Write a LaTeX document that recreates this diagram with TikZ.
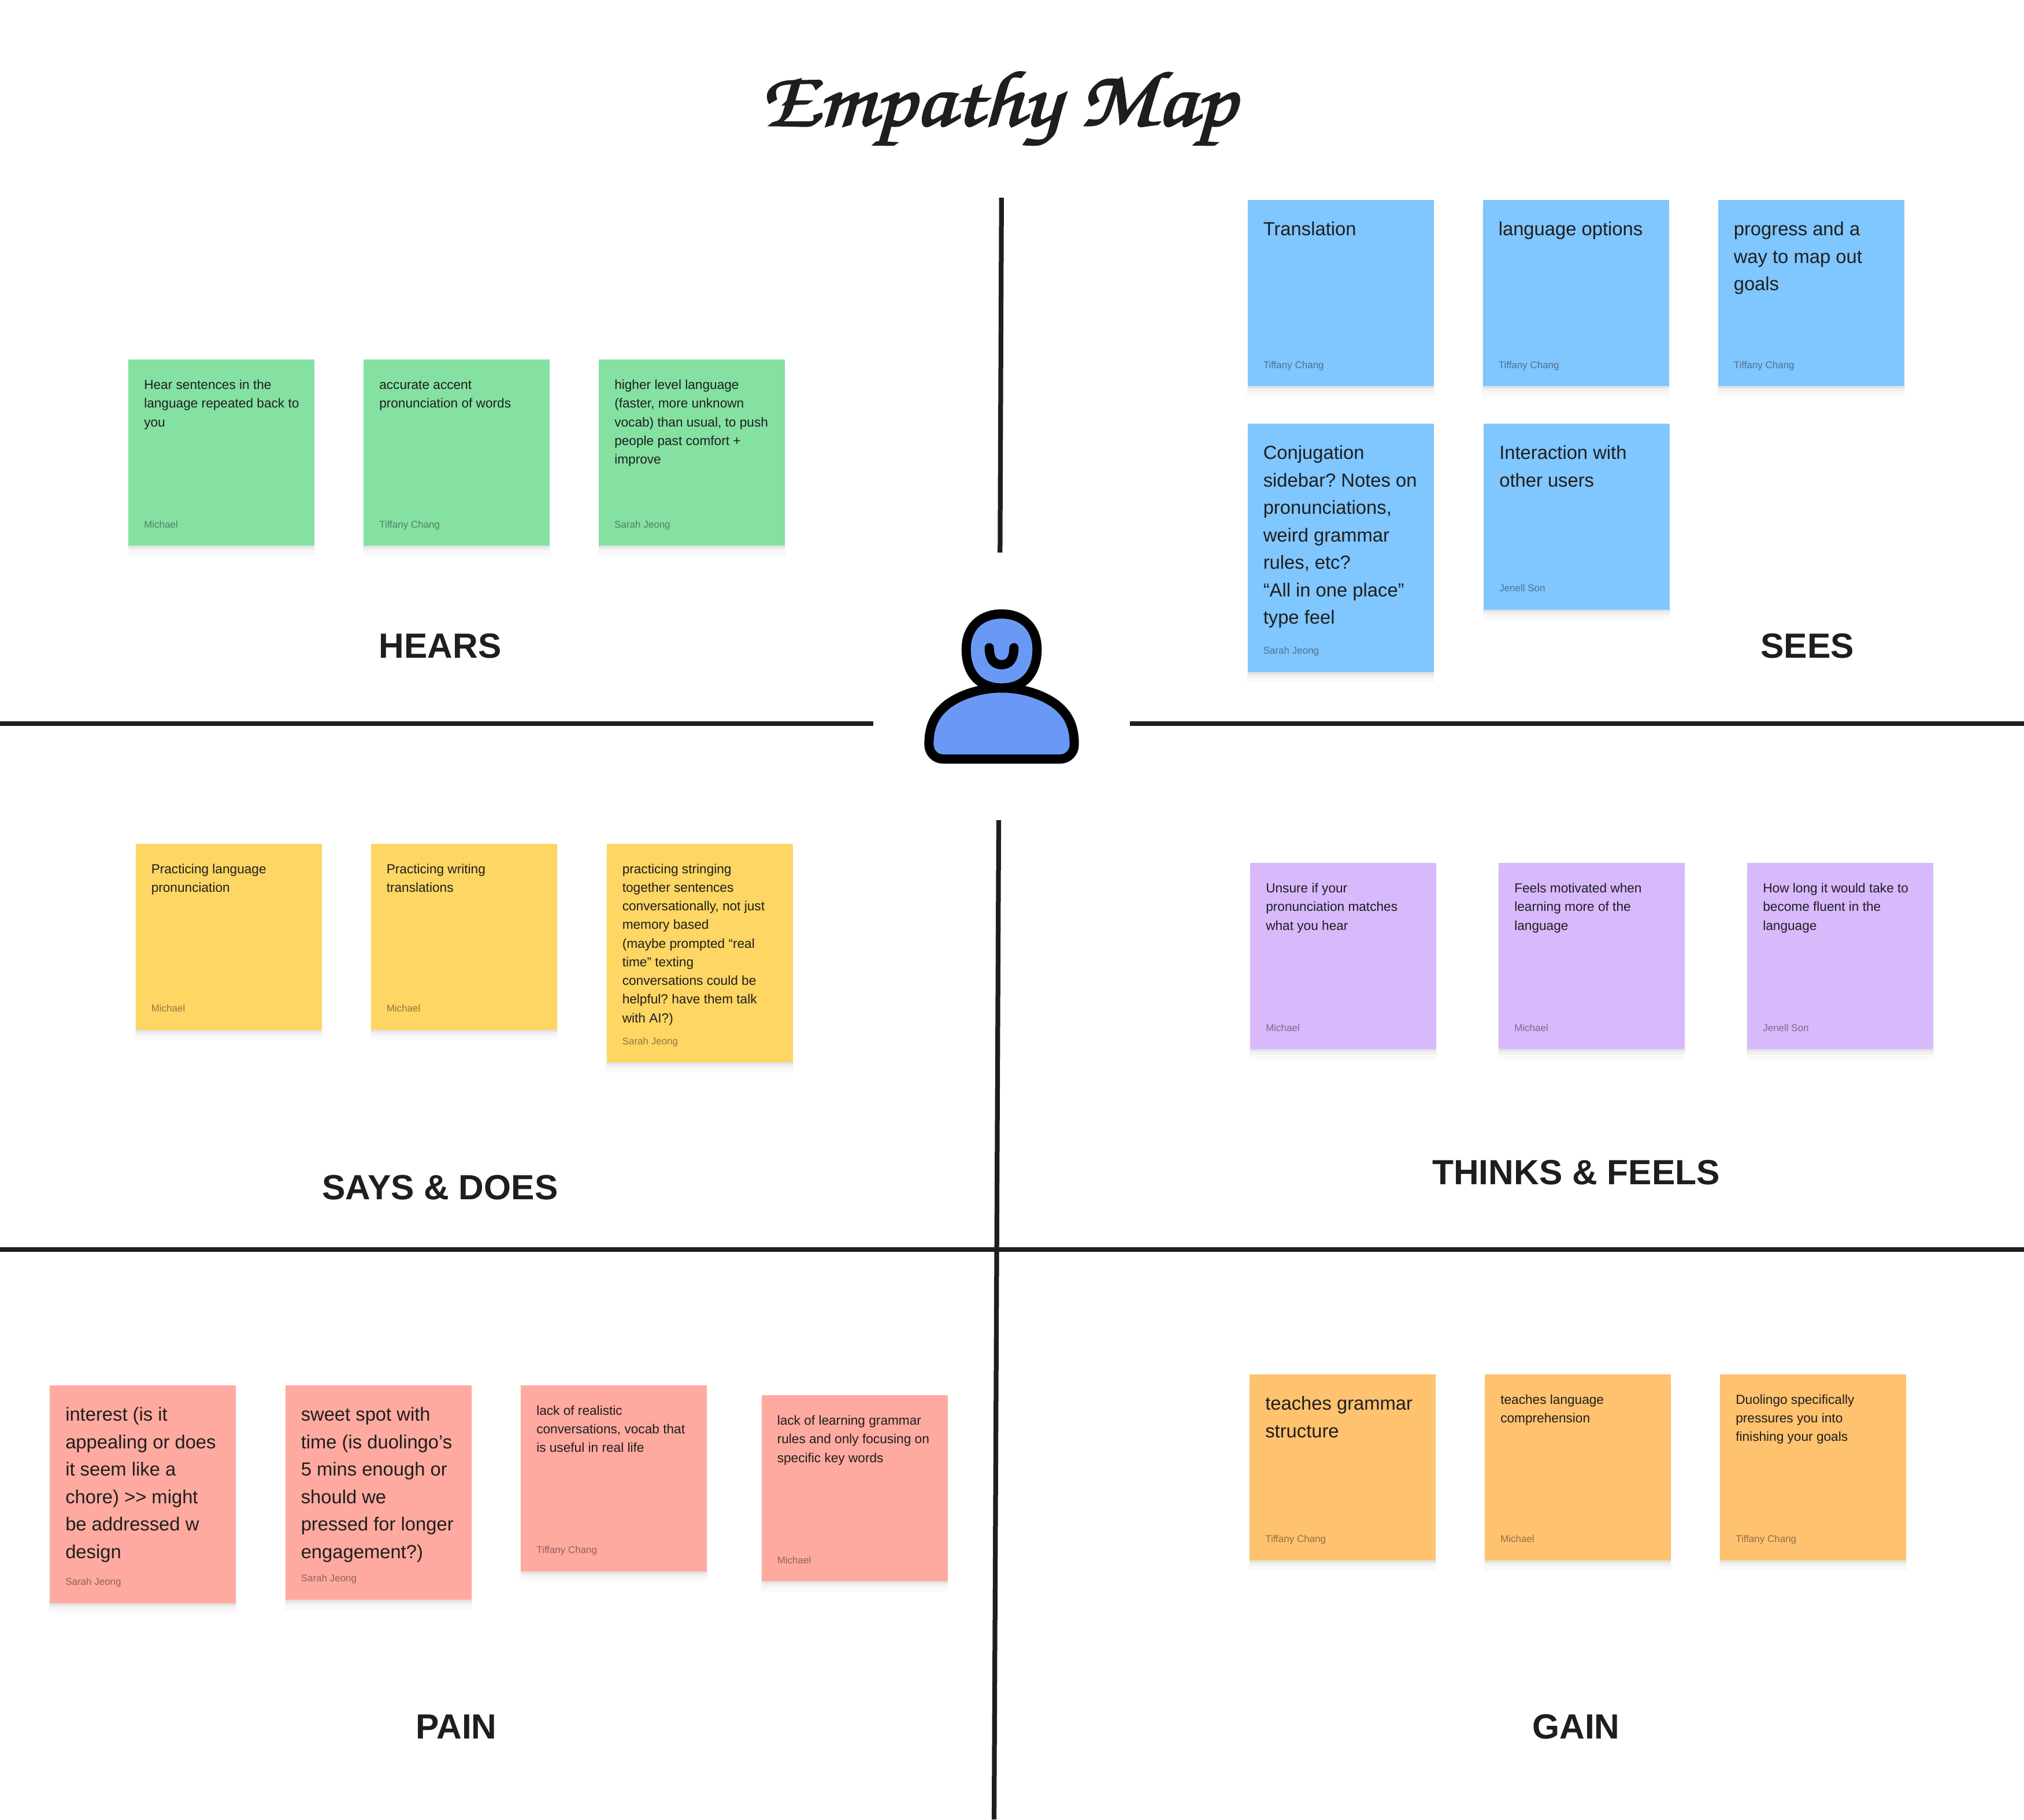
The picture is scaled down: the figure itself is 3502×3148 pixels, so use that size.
\documentclass[tikz,border=0pt]{standalone}
\usepackage{fontspec}
\usepackage{graphicx}
\setmainfont{Liberation Sans}
\usetikzlibrary{positioning,shadows}
\definecolor{figink}{HTML}{1E1E1E}
\definecolor{stickgreen}{HTML}{84E1A2}
\definecolor{stickblue}{HTML}{80C6FF}
\definecolor{stickyellow}{HTML}{FDD663}
\definecolor{stickpurple}{HTML}{D7B9FC}
\definecolor{stickpink}{HTML}{FFAAA0}
\definecolor{stickorange}{HTML}{FFC26F}
\definecolor{iconblue}{HTML}{6A99F5}
\newcommand{\fh}{\rule{0pt}{.9em}}
\tikzset{
  sticky/.style={anchor=north west,minimum width=64.4pt,minimum height=64.4pt,inner sep=0pt,outer sep=0pt,
                 general shadow={fill=black,opacity=0.025,shadow yshift=-3.2pt,shadow scale=1.01},
                 general shadow={fill=black,opacity=0.03,shadow yshift=-1.8pt},
                 general shadow={fill=black,opacity=0.06,shadow yshift=-0.8pt}},
  small/.style={anchor=north west,inner sep=0pt,align=left,text=figink,xshift=5.25pt,yshift=-6.06pt,
                font=\fontsize{4.53}{6.45}\selectfont},
  large/.style={anchor=north west,inner sep=0pt,align=left,text=figink,xshift=5.25pt,yshift=-6.3pt,
                font=\fontsize{6.55}{9.5}\selectfont},
  who/.style={anchor=base west,inner sep=0pt,text=figink,text opacity=0.5,xshift=5.25pt,yshift=6.2pt,
              font=\fontsize{3.4}{4}\selectfont},
  head/.style={inner sep=0pt,text=figink,font=\fontsize{12.1}{15}\bfseries\selectfont},
  rule/.style={draw=figink,line width=1.65pt},
  iconln/.style={draw=black,line width=3.2pt,line join=round},
}
\frenchspacing
\begin{document}
\begin{tikzpicture}[x=0.2pt,y=-0.2pt]
\useasboundingbox (0,0) rectangle (3502,3148);

\node[inner sep=0pt,anchor=base,text=figink,font=\fontsize{31.7}{32}\usefont{T1}{pzc}{mb}{it}] (title) at (1727,217)
  {\scalebox{1}[0.86]{\special{pdf:code 2 Tr 0.7 w}Empathy Map\special{pdf:code 0 Tr}}};

% dividers
\draw[rule] (1732.8,342) -- (1730.3,956);
\draw[rule] (0,1252) -- (1511,1252);
\draw[rule] (1955,1252) -- (3502,1252);
\draw[rule] (1728,1419) -- (1720,3148);
\draw[rule] (0,2162) -- (3502,2162);

% person
\draw[iconln,fill=iconblue] (1632,1313.3) .. controls (1618,1313.3) and (1607.3,1302) .. (1607.3,1288.3)
  .. controls (1607.3,1255) and (1618,1235) .. (1640,1218)
  .. controls (1665,1200) and (1700,1190.3) .. (1733,1190.3)
  .. controls (1766,1190.3) and (1801,1200) .. (1826,1218)
  .. controls (1848,1235) and (1858.7,1255) .. (1858.7,1288.3)
  .. controls (1858.7,1302) and (1848,1313.3) .. (1834,1313.3) -- cycle;
\draw[iconln,fill=iconblue] (1733,1062.3) .. controls (1770,1062.3) and (1794.3,1086) .. (1794.3,1123.3)
  .. controls (1794.3,1165) and (1772,1190.3) .. (1733,1190.3)
  .. controls (1694,1190.3) and (1671.7,1165) .. (1671.7,1123.3)
  .. controls (1671.7,1086) and (1696,1062.3) .. (1733,1062.3) -- cycle;
\draw[iconln,line cap=round] (1711.7,1120.7) .. controls (1711.7,1138) and (1718,1150) .. (1733,1150)
  .. controls (1748,1150) and (1754.3,1138) .. (1754.3,1120.7);

% hears
\node[sticky,fill=stickgreen] (hear1) at (222,622) {};
\node[sticky,fill=stickgreen,right=17pt of hear1] (hear2) {};
\node[sticky,fill=stickgreen,right=17pt of hear2] (hear3) {};
\node[small] (hear1t) at (hear1.north west) {\fh Hear sentences in the\\language repeated back to\\you};
\node[small] (hear2t) at (hear2.north west) {\fh accurate accent\\pronunciation of words};
\node[small] (hear3t) at (hear3.north west) {\fh higher level language\\(faster, more unknown\\vocab) than usual, to push\\people past comfort +\\improve};
\node[who] (hear1w) at (hear1.south west) {Michael};
\node[who] (hear2w) at (hear2.south west) {Tiffany Chang};
\node[who] (hear3w) at (hear3.south west) {Sarah Jeong};
\node[head] (hears) at (761.5,1118) {HEARS};

% sees
\node[sticky,fill=stickblue] (see1) at (2158.5,346) {};
\node[sticky,fill=stickblue,right=17pt of see1] (see2) {};
\node[sticky,fill=stickblue,right=17pt of see2] (see3) {};
\node[sticky,fill=stickblue,minimum height=86pt] (see4) at (2158.5,732.5) {};
\node[sticky,fill=stickblue] (see5) at (2567,732.5) {};
\node[large] (see1t) at (see1.north west) {\fh Translation};
\node[large] (see2t) at (see2.north west) {\fh language options};
\node[large] (see3t) at (see3.north west) {\fh progress and a\\way to map out\\goals};
\node[large] (see4t) at (see4.north west) {\fh Conjugation\\sidebar? Notes on\\pronunciations,\\weird grammar\\rules, etc?\\“All in one place”\\type feel};
\node[large] (see5t) at (see5.north west) {\fh Interaction with\\other users};
\node[who] (see1w) at (see1.south west) {Tiffany Chang};
\node[who] (see2w) at (see2.south west) {Tiffany Chang};
\node[who] (see3w) at (see3.south west) {Tiffany Chang};
\node[who] (see4w) at (see4.south west) {Sarah Jeong};
\node[who] (see5w) at (see5.south west) {Jenell Son};
\node[head] (sees) at (3127,1118) {SEES};

% says and does
\node[sticky,fill=stickyellow] (say1) at (234.5,1459.5) {};
\node[sticky,fill=stickyellow,right=17pt of say1] (say2) {};
\node[sticky,fill=stickyellow,minimum height=75.7pt] (say3) at (1049.5,1459.5) {};
\node[small] (say1t) at (say1.north west) {\fh Practicing language\\pronunciation};
\node[small] (say2t) at (say2.north west) {\fh Practicing writing\\translations};
\node[small] (say3t) at (say3.north west) {\fh practicing stringing\\together sentences\\conversationally, not just\\memory based\\(maybe prompted “real\\time” texting\\conversations could be\\helpful? have them talk\\with AI?)};
\node[who] (say1w) at (say1.south west) {Michael};
\node[who] (say2w) at (say2.south west) {Michael};
\node[who] (say3w) at (say3.south west) {Sarah Jeong};
\node[head] (says) at (761.5,2055) {SAYS \& DOES};

% thinks and feels
\node[sticky,fill=stickpurple] (think1) at (2163,1493) {};
\node[sticky,fill=stickpurple,right=21.6pt of think1] (think2) {};
\node[sticky,fill=stickpurple,right=21.6pt of think2] (think3) {};
\node[small] (think1t) at (think1.north west) {\fh Unsure if your\\pronunciation matches\\what you hear};
\node[small] (think2t) at (think2.north west) {\fh Feels motivated when\\learning more of the\\language};
\node[small] (think3t) at (think3.north west) {\fh How long it would take to\\become fluent in the\\language};
\node[who] (think1w) at (think1.south west) {Michael};
\node[who] (think2w) at (think2.south west) {Michael};
\node[who] (think3w) at (think3.south west) {Jenell Son};
\node[head] (thinks) at (2727,2029) {THINKS \& FEELS};

% pain
\node[sticky,fill=stickpink,minimum height=75.4pt] (pain1) at (86,2396.5) {};
\node[sticky,fill=stickpink,minimum height=74.2pt] (pain2) at (493.5,2396.5) {};
\node[sticky,fill=stickpink] (pain3) at (901,2396.5) {};
\node[sticky,fill=stickpink] (pain4) at (1317.5,2414) {};
\node[large] (pain1t) at (pain1.north west) {\fh interest (is it\\appealing or does\\it seem like a\\chore) >{}> might\\be addressed w\\design};
\node[large] (pain2t) at (pain2.north west) {\fh sweet spot with\\time (is duolingo’s\\5 mins enough or\\should we\\pressed for longer\\engagement?)};
\node[small] (pain3t) at (pain3.north west) {\fh lack of realistic\\conversations, vocab that\\is useful in real life};
\node[small] (pain4t) at (pain4.north west) {\fh lack of learning grammar\\rules and only focusing on\\specific key words};
\node[who] (pain1w) at (pain1.south west) {Sarah Jeong};
\node[who] (pain2w) at (pain2.south west) {Sarah Jeong};
\node[who] (pain3w) at (pain3.south west) {Tiffany Chang};
\node[who] (pain4w) at (pain4.south west) {Michael};
\node[head] (painh) at (789.5,2988) {PAIN};

% gain
\node[sticky,fill=stickorange] (gain1) at (2162,2377.5) {};
\node[sticky,fill=stickorange,right=17pt of gain1] (gain2) {};
\node[sticky,fill=stickorange,right=17pt of gain2] (gain3) {};
\node[large] (gain1t) at (gain1.north west) {\fh teaches grammar\\structure};
\node[small] (gain2t) at (gain2.north west) {\fh teaches language\\comprehension};
\node[small] (gain3t) at (gain3.north west) {\fh Duolingo specifically\\pressures you into\\finishing your goals};
\node[who] (gain1w) at (gain1.south west) {Tiffany Chang};
\node[who] (gain2w) at (gain2.south west) {Michael};
\node[who] (gain3w) at (gain3.south west) {Tiffany Chang};
\node[head] (gainh) at (2727,2988) {GAIN};
\end{tikzpicture}
\end{document}
